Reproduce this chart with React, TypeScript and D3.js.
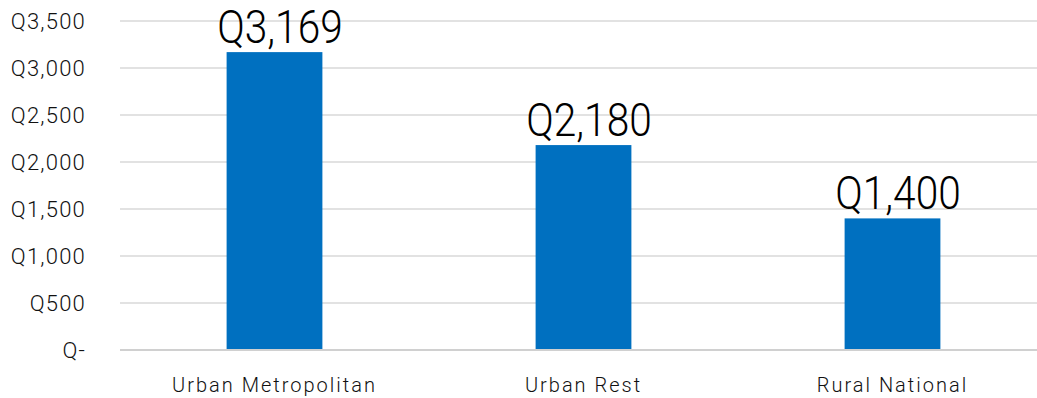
import React from "react";
import * as d3 from "d3";

const categories = ["Urban Metropolitan", "Urban Rest", "Rural National"];
const values = [3169, 2180, 1400];
const yTicks = [0, 500, 1000, 1500, 2000, 2500, 3000, 3500];

const W = 1037;
const H = 398;
const margin = { left: 120, right: -10, top: 21, bottom: 48 };

const fmt = (v: number) => (v === 0 ? "Q-" : "Q" + d3.format(",")(v));

export default function App() {
  const x = d3
    .scaleBand<string>()
    .domain(categories)
    .range([margin.left, W - margin.right])
    .paddingInner(0.69)
    .paddingOuter(0.345);
  const y = d3.scaleLinear().domain([0, 3500]).range([H - margin.bottom, margin.top]);
  const font = "Roboto, 'DejaVu Sans', sans-serif";
  return (
    <svg
      width={W}
      height={H}
      style={{ position: "absolute", left: 0, top: 0, background: "#fff" }}
      fontFamily={font}
    >
      {yTicks.map((t) => (
        <g key={t}>
          <line
            x1={margin.left}
            x2={W}
            y1={y(t)}
            y2={y(t)}
            stroke={t === 0 ? "#d0d0d0" : "#d9d9d9"}
            strokeWidth={t === 0 ? 2 : 1.3}
          />
          <text
            x={86}
            y={y(t)}
            dy="0.36em"
            textAnchor="end"
            fontSize={22}
            fontWeight={300}
            letterSpacing={1.2}
            fill="#111"
          >
            {fmt(t)}
          </text>
        </g>
      ))}
      {categories.map((c, i) => {
        const label = fmt(values[i]);
        return (
          <g key={c}>
            <rect
              x={x(c)!}
              y={y(values[i])}
              width={x.bandwidth()}
              height={y(0) - y(values[i]) - 1}
              fill="#0070C0"
            />
            <text
              x={x(c)! + x.bandwidth() / 2 + 5.5}
              y={y(values[i]) - 9}
              textAnchor="middle"
              fontSize={46}
              fontWeight={300}
              fill="#000"
              textLength={label.length * 20.9}
              lengthAdjust="spacingAndGlyphs"
            >
              {label}
            </text>
            <text
              x={x(c)! + x.bandwidth() / 2}
              y={392}
              textAnchor="middle"
              fontSize={20}
              fontWeight={300}
              letterSpacing={2}
              fill="#111"
            >
              {c}
            </text>
          </g>
        );
      })}
    </svg>
  );
}
